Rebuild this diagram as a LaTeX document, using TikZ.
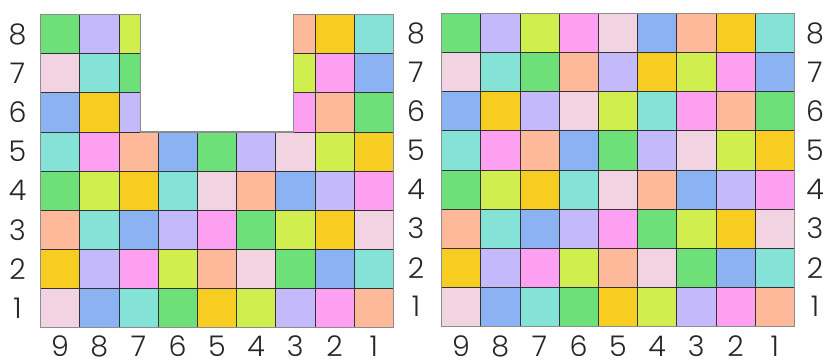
\documentclass[tikz,border=0pt]{standalone}
\usepackage{fontspec}
\setmainfont{Poppins}[UprightFont=* Light]
\definecolor{cG}{HTML}{6EE07A}
\definecolor{cL}{HTML}{C4BAFB}
\definecolor{cY}{HTML}{D0EF4E}
\definecolor{cP}{HTML}{F2D3E2}
\definecolor{cT}{HTML}{84E2D6}
\definecolor{cB}{HTML}{8BB3F3}
\definecolor{cO}{HTML}{F8CD22}
\definecolor{cM}{HTML}{FEA0F1}
\definecolor{cS}{HTML}{FEB99A}
\tikzset{
  cellline/.style={draw=black!80, line width=0.6pt},
  outline/.style={draw=black!45, line width=1.2pt, line join=miter},
  lab/.style={font=\fontsize{28.5}{30}\selectfont, inner sep=0pt, text depth=0pt, text=black!85}
}
\begin{document}
\begin{tikzpicture}[x=1pt,y=1pt]
\useasboundingbox (0,0) rectangle (823,361);
\def\W{39.2}
\def\H{39.15}
% ---------------- left grid ----------------
\def\xa{40.5}
\def\ya{33.3}
\foreach \r/\cols in {5/{T,M,S,B,G,L,P,Y,O},4/{G,Y,O,T,P,S,B,L,M},3/{S,T,B,L,M,G,Y,O,P},2/{O,L,M,Y,S,P,G,B,T},1/{P,B,T,G,O,Y,L,M,S}}{
  \foreach \c [count=\i from 0] in \cols {
    \path[fill=c\c, cellline] ({\xa+\i*\W},{\ya+(\r-1)*\H}) rectangle ++(\W,\H);
  }
}
\foreach \r/\a/\b/\p/\q/\d/\e in {8/G/L/Y/S/O/T,7/P/T/G/Y/M/B,6/B/O/L/M/S/G}{
  \path[fill=c\a, cellline] ({\xa+0*\W},{\ya+(\r-1)*\H}) rectangle ++(\W,\H);
  \path[fill=c\b, cellline] ({\xa+1*\W},{\ya+(\r-1)*\H}) rectangle ++(\W,\H);
  \path[fill=c\p, cellline] ({\xa+2*\W},{\ya+(\r-1)*\H}) rectangle ++(21.5,\H);
  \path[fill=c\q, cellline] ({\xa+7*\W-21.5},{\ya+(\r-1)*\H}) rectangle ++(21.5,\H);
  \path[fill=c\d, cellline] ({\xa+7*\W},{\ya+(\r-1)*\H}) rectangle ++(\W,\H);
  \path[fill=c\e, cellline] ({\xa+8*\W},{\ya+(\r-1)*\H}) rectangle ++(\W,\H);
}
\draw[outline] (\xa,\ya) -- ({\xa+9*\W},\ya) -- ({\xa+9*\W},{\ya+8*\H})
  -- ({\xa+7*\W-21.5},{\ya+8*\H}) -- ({\xa+7*\W-21.5},{\ya+5*\H})
  -- ({\xa+2*\W+21.5},{\ya+5*\H}) -- ({\xa+2*\W+21.5},{\ya+8*\H})
  -- (\xa,{\ya+8*\H}) -- cycle;
% ---------------- right grid ----------------
\def\xb{441.5}
\def\yb{34.7}
\def\Hb{39.1}
\foreach \r/\cols in {8/{G,L,Y,M,P,B,S,O,T},7/{P,T,G,S,L,O,Y,M,B},6/{B,O,L,P,Y,T,M,S,G},5/{T,M,S,B,G,L,P,Y,O},4/{G,Y,O,T,P,S,B,L,M},3/{S,T,B,L,M,G,Y,O,P},2/{O,L,M,Y,S,P,G,B,T},1/{P,B,T,G,O,Y,L,M,S}}{
  \foreach \c [count=\i from 0] in \cols {
    \path[fill=c\c, cellline] ({\xb+\i*\W},{\yb+(\r-1)*\Hb}) rectangle ++(\W,\Hb);
  }
}
\draw[outline] (\xb,\yb) rectangle ({\xb+9*\W},{\yb+8*\Hb});
% ---------------- labels ----------------
\foreach \r in {1,...,8}{
  \node[lab] (ll\r) at (17.5,{\ya+(\r-0.5)*\H}) {\r};
  \node[lab] (lm\r) at (416,{\yb+(\r-0.5)*\Hb}) {\r};
  \node[lab] (lr\r) at (815,{\yb+(\r-0.5)*\Hb}) {\r};
}
\foreach \n [count=\i from 0] in {9,8,7,6,5,4,3,2,1}{
  \node[lab] (bl\n) at ({\xa+(\i+0.5)*\W},14.5) {\n};
  \node[lab] (br\n) at ({\xb+(\i+0.5)*\W},14.5) {\n};
}
\end{tikzpicture}
\end{document}
